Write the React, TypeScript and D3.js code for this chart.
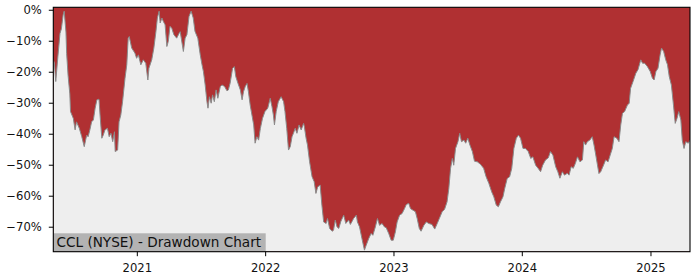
import React from "react";
import * as d3 from "d3";

const dates: string[] = [
  "2020-05-07","2020-05-10","2020-05-14","2020-05-20","2020-05-26","2020-05-30",
  "2020-06-04","2020-06-07","2020-06-12","2020-06-14","2020-06-18","2020-06-23","2020-06-25",
  "2020-07-03","2020-07-08","2020-07-12","2020-07-20","2020-07-27",
  "2020-08-03","2020-08-10","2020-08-14","2020-08-19","2020-08-24","2020-08-29",
  "2020-09-03","2020-09-08","2020-09-14","2020-09-17","2020-09-22","2020-09-26",
  "2020-10-01","2020-10-08","2020-10-13","2020-10-18","2020-10-23","2020-10-28","2020-10-30",
  "2020-11-06","2020-11-10","2020-11-15","2020-11-20","2020-11-27",
  "2020-12-02","2020-12-06","2020-12-09","2020-12-16","2020-12-25","2020-12-30",
  "2021-01-04","2021-01-11","2021-01-18","2021-01-25","2021-01-31",
  "2021-02-03","2021-02-11","2021-02-17","2021-02-23","2021-02-27",
  "2021-03-04","2021-03-07","2021-03-12","2021-03-16","2021-03-21","2021-03-26","2021-03-30",
  "2021-04-04","2021-04-09","2021-04-15","2021-04-23","2021-04-30",
  "2021-05-03","2021-05-12","2021-05-17","2021-05-22","2021-05-28",
  "2021-06-03","2021-06-09","2021-06-14","2021-06-22","2021-06-29",
  "2021-07-04","2021-07-08","2021-07-13","2021-07-18","2021-07-21","2021-07-25","2021-07-30",
  "2021-08-03","2021-08-08","2021-08-13","2021-08-18","2021-08-25","2021-08-30",
  "2021-09-06","2021-09-13","2021-09-17","2021-09-22","2021-09-29",
  "2021-10-04","2021-10-08","2021-10-14","2021-10-21","2021-10-26","2021-10-30",
  "2021-11-04","2021-11-09","2021-11-13","2021-11-18","2021-11-23","2021-11-28",
  "2021-12-02","2021-12-07","2021-12-12","2021-12-17","2021-12-23","2021-12-30",
  "2022-01-07","2022-01-14","2022-01-19","2022-01-23","2022-01-26","2022-01-31",
  "2022-02-06","2022-02-14","2022-02-21","2022-02-25",
  "2022-03-02","2022-03-07","2022-03-12","2022-03-17","2022-03-21","2022-03-26","2022-03-31",
  "2022-04-06","2022-04-12","2022-04-19","2022-04-21","2022-04-26","2022-04-30",
  "2022-05-06","2022-05-13","2022-05-19","2022-05-24","2022-05-29",
  "2022-06-05","2022-06-10","2022-06-15","2022-06-22","2022-06-26",
  "2022-07-02","2022-07-09","2022-07-13","2022-07-18","2022-07-23","2022-07-28",
  "2022-08-03","2022-08-11","2022-08-17","2022-08-25","2022-08-30",
  "2022-09-04","2022-09-08","2022-09-16","2022-09-19","2022-09-25",
  "2022-10-02","2022-10-09","2022-10-14","2022-10-21","2022-10-28",
  "2022-11-02","2022-11-09","2022-11-15","2022-11-21","2022-11-28",
  "2022-12-05","2022-12-10","2022-12-17","2022-12-24","2022-12-30",
  "2023-01-05","2023-01-10","2023-01-17","2023-01-24","2023-01-31",
  "2023-02-05","2023-02-12","2023-02-17","2023-02-24",
  "2023-03-03","2023-03-08","2023-03-14","2023-03-19","2023-03-27",
  "2023-04-03","2023-04-10","2023-04-19","2023-04-27",
  "2023-05-04","2023-05-10","2023-05-18","2023-05-25",
  "2023-06-01","2023-06-06","2023-06-11","2023-06-16","2023-06-20","2023-06-25",
  "2023-07-02","2023-07-07","2023-07-12","2023-07-19","2023-07-24","2023-07-30",
  "2023-08-05","2023-08-12","2023-08-18","2023-08-26",
  "2023-09-04","2023-09-13","2023-09-20","2023-09-28",
  "2023-10-06","2023-10-12","2023-10-19","2023-10-25","2023-10-31",
  "2023-11-07","2023-11-12","2023-11-19","2023-11-26",
  "2023-12-02","2023-12-08","2023-12-15","2023-12-21","2023-12-27",
  "2024-01-03","2024-01-10","2024-01-18","2024-01-25","2024-01-31",
  "2024-02-08","2024-02-15","2024-02-22","2024-02-28",
  "2024-03-07","2024-03-15","2024-03-21","2024-03-28",
  "2024-04-05","2024-04-11","2024-04-17","2024-04-24","2024-04-30",
  "2024-05-08","2024-05-13","2024-05-19","2024-05-25","2024-05-31",
  "2024-06-06","2024-06-13","2024-06-20","2024-06-24","2024-06-29",
  "2024-07-04","2024-07-11","2024-07-18","2024-07-23","2024-07-28",
  "2024-08-01","2024-08-06","2024-08-11","2024-08-19","2024-08-25",
  "2024-09-01","2024-09-07","2024-09-13","2024-09-18","2024-09-26",
  "2024-10-02","2024-10-07","2024-10-12","2024-10-18","2024-10-26","2024-10-31",
  "2024-11-04","2024-11-11","2024-11-19","2024-11-25",
  "2024-12-03","2024-12-08","2024-12-14","2024-12-22","2024-12-30",
  "2025-01-05","2025-01-10","2025-01-15","2025-01-21","2025-01-27","2025-01-31",
  "2025-02-06","2025-02-12","2025-02-17","2025-02-22","2025-02-28",
  "2025-03-06","2025-03-11","2025-03-16","2025-03-21","2025-03-27","2025-03-31",
  "2025-04-05","2025-04-10","2025-04-17","2025-04-22",
];

const drawdown: number[] = [
  -16,-17,-23,-15,-7.5,-6,
  -1.5,-0.3,-7,-14,-21,-27,-32.7,
  -34.9,-38.6,-36,-38.1,-40.8,
  -44,-40.3,-40.8,-38.6,-36,-35.4,
  -31.6,-28.9,-28.7,-33.8,-41.3,-40.3,
  -38.6,-38.1,-40.8,-39.7,-42.4,-39.2,-45.6,
  -45.1,-36,-33.8,-29.5,-21.9,
  -17.6,-9,-8.5,-12.2,-13.8,-15.5,
  -14.4,-17.6,-16,-17.1,-22.5,
  -18.7,-16,-12.2,-6.8,-2.5,
  -0.3,-4.1,-2.5,-3.6,-4.7,-11.7,-10.1,
  -5.2,-5.8,-7.9,-9,-7.4,
  -6.9,-13.3,-9,-7.9,-2,
  -0.3,-2.5,-6.8,-9,-14.4,
  -17.6,-19.8,-24.1,-29.5,-31.6,-27.9,-30,
  -27.3,-29.5,-25.7,-28.4,-24.6,-24.1,
  -24.6,-26,-25.7,-23.5,-18.7,
  -18.2,-21.4,-23.5,-25.7,-28.9,-26.3,
  -24.6,-23.6,-26.3,-30.6,-33.8,-37,
  -42.9,-40.8,-41.9,-38.1,-34.9,-32.7,
  -31.6,-28.4,-31.1,-33.8,-37,-32.7,
  -29.5,-27.9,-29.5,-32.7,
  -38.1,-45.1,-44,-40.8,-39.7,-38.1,-39.7,
  -37,-38.6,-36.5,-37.5,-41.3,-43.5,
  -48.9,-53.7,-55.3,-59.1,-57,
  -56.4,-62.9,-68.3,-68.8,-67.2,
  -70.4,-71.3,-71,-67.7,-69.9,-70.4,
  -68.1,-66.1,-68.8,-67.7,-69.1,
  -68.1,-67.2,-66.1,-68.3,-69.9,
  -73.7,-77.4,-75.8,-73.7,-72,
  -72.6,-69.9,-67.2,-69.4,-68.8,
  -69.9,-70.2,-72,-74.2,-74.2,
  -71.5,-68.3,-66.1,-65.6,-64,
  -62.7,-62.3,-64,-64.5,
  -65,-67.2,-70.4,-71.3,-69.4,
  -68.3,-68.8,-69.1,-70.6,
  -68.8,-67.2,-65,-64.2,
  -61.8,-57.5,-51,-47.8,-50,-44.6,
  -42.4,-39.7,-42.4,-41.9,-42.9,-41.3,
  -43.5,-45.6,-48.7,-48.9,
  -49.7,-51,-53.7,-55.9,
  -58.6,-60.2,-62.9,-63.4,-61.8,
  -60.2,-57.5,-54.3,-53.7,
  -51,-44.6,-41.3,-40.3,-41.3,
  -44.6,-44.6,-45.6,-47.8,-47.3,
  -50,-51,-52.1,-50,
  -48.3,-47.6,-45.6,-46.7,
  -50.5,-52.1,-54.2,-52.1,-53.2,
  -52.6,-53.2,-50.5,-51,-49.4,
  -47.3,-48.9,-48.3,-42.4,-43.5,
  -42.4,-41.9,-40.8,-43.5,-46.7,
  -49.4,-52.7,-52.1,-50,-48.3,
  -48.9,-46.7,-44.6,-40.8,-41.3,
  -42.4,-37,-33.2,-32.7,-30.6,-30,
  -25.2,-23,-20.3,-19.2,
  -16,-17.1,-17.1,-18.2,-19.8,
  -21.9,-22.5,-19.8,-18.7,-14.4,-12.2,
  -13.3,-16,-17.6,-21.4,-24.1,
  -30.6,-36.5,-34.9,-32.7,-35.4,-41.9,
  -44.6,-42.4,-42.9,-41.9,
];

const yTicks: number[] = [0, -10, -20, -30, -40, -50, -60, -70];
const xTickYears: number[] = [2021, 2022, 2023, 2024, 2025];
const title = "CCL (NYSE) - Drawdown Chart";

const W = 700;
const H = 280;
const left = 53.3;
const right = 690;
const top = 7.3;
const bottom = 251.7;
const FONT = "DejaVu Sans, sans-serif";

export default function App() {
  const parse = d3.timeParse("%Y-%m-%d");
  const data = dates.map((d, i) => ({ date: parse(d) as Date, v: drawdown[i] }));
  const x = d3
    .scaleTime()
    .domain(d3.extent(data, (d) => d.date) as [Date, Date])
    .range([left, right]);
  const y = d3.scaleLinear().domain([-77.9, 0.95]).range([bottom, top]);

  const area = d3
    .area<{ date: Date; v: number }>()
    .x((d) => x(d.date))
    .y0(bottom)
    .y1((d) => y(d.v));
  const line = d3
    .line<{ date: Date; v: number }>()
    .x((d) => x(d.date))
    .y((d) => y(d.v));

  const fmt = (v: number) => (v < 0 ? "\u2212" + Math.abs(v) : String(v)) + "%";

  return (
    <div style={{ position: "absolute", left: 0, top: 0 }}>
      <svg width={W} height={H} style={{ display: "block", background: "#fff" }}>
        <defs>
          <clipPath id="plot">
            <rect x={left} y={top} width={right - left} height={bottom - top} />
          </clipPath>
        </defs>
        <rect x={left} y={top} width={right - left} height={bottom - top} fill="#b03032" />
        <g clipPath="url(#plot)">
          <path d={area(data) || ""} fill="#eeeeee" />
          <path d={line(data) || ""} fill="none" stroke="#8a8a8a" strokeWidth={1} />
        </g>
        <rect x={left} y={233.3} width={212.4} height={bottom - 233.3} fill="#b3b3b3" />
        <text x={56.5} y={246.8} fontFamily={FONT} fontSize={13.6} fill="#111">
          {title}
        </text>
        <rect x={left} y={top} width={right - left} height={bottom - top} fill="none" stroke="#000" strokeWidth={1.1} />
        {yTicks.map((t) => (
          <g key={t}>
            <line x1={left - 4.5} x2={left} y1={y(t)} y2={y(t)} stroke="#000" strokeWidth={1} />
            <text x={41.8} y={y(t)} dy="0.36em" textAnchor="end" fontFamily={FONT} fontSize={11.6} fill="#111">
              {fmt(t)}
            </text>
          </g>
        ))}
        {xTickYears.map((yr) => {
          const xx = x(new Date(yr, 0, 1));
          return (
            <g key={yr}>
              <line x1={xx} x2={xx} y1={bottom} y2={bottom + 4.5} stroke="#000" strokeWidth={1} />
              <text x={xx} y={272.3} textAnchor="middle" fontFamily={FONT} fontSize={11.6} fill="#111">
                {yr}
              </text>
            </g>
          );
        })}
      </svg>
    </div>
  );
}
